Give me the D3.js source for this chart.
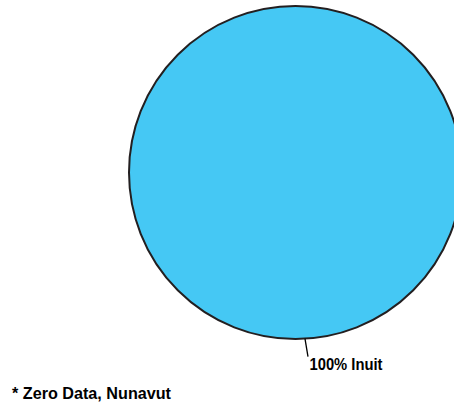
<!DOCTYPE html>
<html>
<head>
<meta charset="utf-8">
<script src="https://cdn.jsdelivr.net/npm/d3@7/dist/d3.min.js"></script>
<style>
  html, body { margin: 0; padding: 0; background: #fff; }
  svg { display: block; }
  text { font-family: "Liberation Sans", Arial, sans-serif; font-weight: bold; fill: #000; }
</style>
</head>
<body>
<script>
const categories = ["Inuit"];
const values = [100];
const footnote = "* Zero Data, Nunavut";

const W = 454, H = 402;
const cx = 295.5, cy = 172.5, R = 166.5;

const svg = d3.select("body").append("svg").attr("width", W).attr("height", H);

const pie = d3.pie().sort(null).value(d => d.value);
const arcs = pie(categories.map((c, i) => ({ name: c, value: values[i] })));
const arc = d3.arc().innerRadius(0).outerRadius(R);
const total = d3.sum(values);

const g = svg.append("g").attr("transform", `translate(${cx},${cy})`);

if (arcs.length === 1) {
  g.append("circle").attr("r", R)
    .attr("fill", "#45C8F4").attr("stroke", "#231F20").attr("stroke-width", 2);
} else {
  g.selectAll("path").data(arcs).join("path")
    .attr("d", arc).attr("fill", "#45C8F4").attr("stroke", "#231F20").attr("stroke-width", 2);
}

// leader line + label
arcs.forEach(a => {
  const ang = (a.startAngle + a.endAngle) / 2 - 0.057;
  const x0 = Math.sin(ang) * R, y0 = -Math.cos(ang) * R;
  const x1 = x0 + 3, y1 = y0 + 18;
  g.append("line").attr("x1", x0).attr("y1", y0).attr("x2", x1).attr("y2", y1)
    .attr("stroke", "#000").attr("stroke-width", 1.3);
  g.append("text").attr("x", x1 + 1.5).attr("y", y1 + 13)
    .attr("font-size", 16.3)
    .attr("textLength", 73).attr("lengthAdjust", "spacingAndGlyphs")
    .text(`${Math.round(a.value / total * 100)}% ${a.data.name}`);
});

svg.append("text").attr("x", 12).attr("y", 399).attr("font-size", 17)
  .attr("textLength", 159).attr("lengthAdjust", "spacingAndGlyphs")
  .text(footnote);
</script>
</body>
</html>
